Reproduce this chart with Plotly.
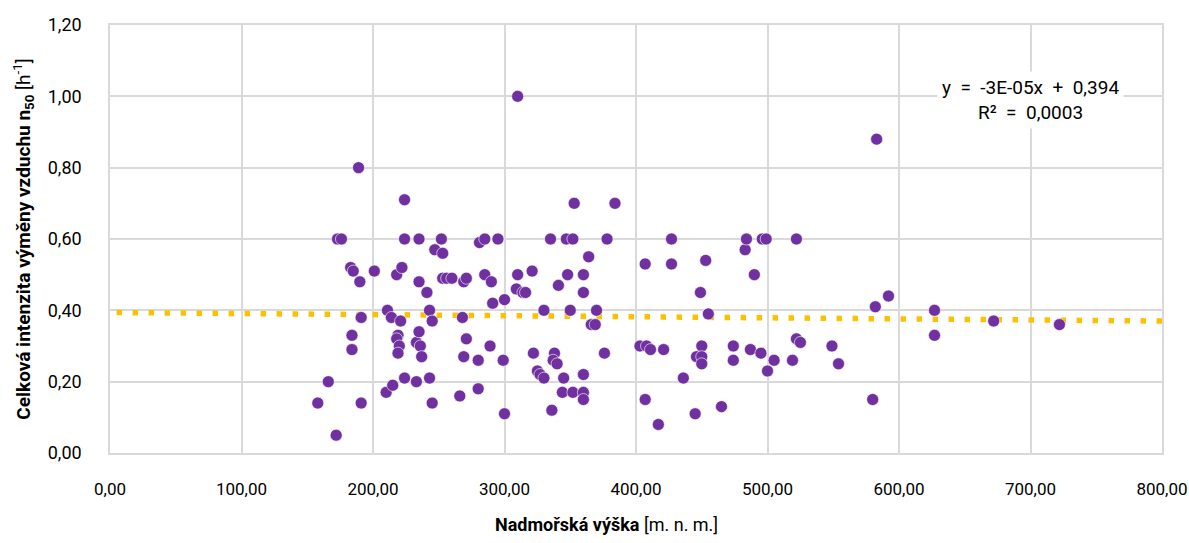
import plotly.graph_objects as go

# Data: altitude [m n.m.] vs. air change rate n50 [1/h]
altitude = [158, 166, 172, 173, 176, 183, 185, 184, 184, 189, 190, 191, 191, 201,
            210, 215, 211, 214, 218, 222, 224, 224, 221, 219, 218, 220, 219, 224, 233,
            235, 235, 233, 235, 236, 237, 241, 243, 245, 243, 245,
            247, 253, 252, 253, 256, 260,
            266, 268, 269, 271, 271, 269, 280, 280,
            281, 285, 285, 290, 289, 291, 295, 299, 300, 300,
            309, 310, 310, 314, 316, 321, 322, 325, 327, 330, 330,
            335, 336, 338, 337, 340, 341, 344, 345, 347, 348, 350, 352, 352, 353,
            360, 360, 360, 360, 360, 364, 366, 369, 370, 376, 378, 384,
            403, 407, 407, 408, 411, 417, 421, 427, 427, 436, 445, 446, 449, 450, 450, 450, 453, 455, 465,
            474, 474, 483, 484, 487, 490, 495, 496, 499, 500, 505, 519, 522, 522, 525, 549, 554,
            580, 582, 583, 592, 627, 627, 672, 722]
n50 = [0.14, 0.20, 0.05, 0.60, 0.60, 0.52, 0.51, 0.29, 0.33, 0.80, 0.48, 0.38, 0.14, 0.51,
       0.17, 0.19, 0.40, 0.38, 0.50, 0.52, 0.71, 0.60, 0.37, 0.33, 0.32, 0.30, 0.28, 0.21, 0.20,
       0.60, 0.48, 0.31, 0.34, 0.30, 0.27, 0.45, 0.40, 0.37, 0.21, 0.14,
       0.57, 0.56, 0.60, 0.49, 0.49, 0.49,
       0.16, 0.38, 0.48, 0.49, 0.32, 0.27, 0.26, 0.18,
       0.59, 0.60, 0.50, 0.48, 0.30, 0.42, 0.60, 0.26, 0.43, 0.11,
       0.46, 0.50, 1.00, 0.45, 0.45, 0.51, 0.28, 0.23, 0.22, 0.21, 0.40,
       0.60, 0.12, 0.28, 0.26, 0.25, 0.47, 0.17, 0.21, 0.60, 0.50, 0.40, 0.60, 0.17, 0.70,
       0.50, 0.45, 0.22, 0.17, 0.15, 0.55, 0.36, 0.36, 0.40, 0.28, 0.60, 0.70,
       0.30, 0.53, 0.15, 0.30, 0.29, 0.08, 0.29, 0.60, 0.53, 0.21, 0.11, 0.27, 0.45, 0.30, 0.27, 0.25, 0.54, 0.39, 0.13,
       0.30, 0.26, 0.57, 0.60, 0.29, 0.50, 0.28, 0.60, 0.60, 0.23, 0.26, 0.26, 0.60, 0.32, 0.31, 0.30, 0.25,
       0.15, 0.41, 0.88, 0.44, 0.40, 0.33, 0.37, 0.36]

# Trendline (from the chart's equation)
trend_slope = -3e-05
trend_intercept = 0.394
trend_x = [5, 800]
trend_y = [trend_intercept + trend_slope * v for v in trend_x]

x_ticks = [0, 100, 200, 300, 400, 500, 600, 700, 800]
y_ticks = [0, 0.2, 0.4, 0.6, 0.8, 1.0, 1.2]

FONT = "Roboto, sans-serif"

fig = go.Figure()
fig.add_trace(go.Scatter(
    x=trend_x, y=trend_y, mode="lines",
    line=dict(color="#FFC000", width=5.5, dash="5.5px,10.5px"),
    hoverinfo="skip", showlegend=False))
fig.add_trace(go.Scatter(
    x=altitude, y=n50, mode="markers",
    marker=dict(color="#7030A0", size=12, line=dict(color="white", width=0.6)),
    showlegend=False))

fig.add_annotation(
    x=700, y=0.99, xref="x", yref="y",
    text="y  =  -3E-05x  +  0,394<br>R²  =  0,0003",
    showarrow=False, align="center",
    font=dict(family=FONT, size=19, color="#000000"),
    bgcolor="white", borderpad=4)

# x-axis title (placed slightly left of centre, as in the original)
fig.add_annotation(
    x=0.4715, y=-0.168, xref="paper", yref="paper",
    xanchor="center", yanchor="middle", showarrow=False,
    text="<b>Nadmořská výška</b> [m. n. m.]",
    font=dict(family=FONT, size=18, color="#000000"))

fig.update_layout(
    width=1189, height=543,
    margin=dict(l=110, r=27, t=25, b=90, autoexpand=False),
    paper_bgcolor="white", plot_bgcolor="white",
    separators=", ",
    font=dict(family=FONT, size=18, color="#000000"),
    showlegend=False,
)
fig.update_xaxes(
    range=[0, 800], tickvals=x_ticks, tickformat=".2f",
    showgrid=True, gridcolor="#D9D9D9", gridwidth=1.5,
    showline=True, linecolor="#D9D9D9", linewidth=1.5, mirror=True,
    zeroline=False, ticks="", ticklabelstandoff=20, ticklabeloverflow="allow",
    automargin=False,
    tickfont=dict(family=FONT, size=17),
)
fig.update_yaxes(
    range=[0, 1.2], tickvals=y_ticks, tickformat=".2f",
    showgrid=True, gridcolor="#D9D9D9", gridwidth=1.5,
    showline=True, linecolor="#D9D9D9", linewidth=1.5, mirror=True,
    zeroline=False, ticks="", ticklabelstandoff=23,
    automargin=False,
    tickfont=dict(family=FONT, size=18),
    title=dict(text="<b>Celková intenzita výměny vzduchu n<sub>50</sub></b> [h<sup>-1</sup>]",
               standoff=12, font=dict(family=FONT, size=19)),
)

fig.write_html("out.html")
